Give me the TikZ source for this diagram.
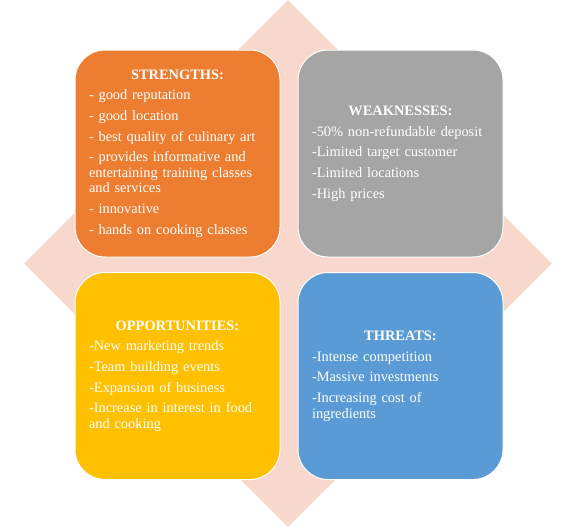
\documentclass[tikz,border=0pt]{standalone}
\usepackage{fontspec}
\setmainfont{Liberation Serif}
\usetikzlibrary{positioning,shapes.geometric}
\definecolor{swotorange}{RGB}{237,125,49}
\definecolor{swotgris}{RGB}{165,165,165}
\definecolor{swotjaune}{RGB}{255,192,0}
\definecolor{swotbleu}{RGB}{91,155,213}
\definecolor{fondrose}{RGB}{248,216,205}
\newcommand\swottitre[1]{{\centering\bfseries #1\par}}

\begin{document}
\begin{tikzpicture}[x=1pt,y=-1pt,
  carre/.style={draw=white,line width=1pt,rounded corners=30pt,minimum width=205pt,minimum height=207pt,inner sep=0pt},
  liste/.style={text=white,text width=177pt,align=left,inner sep=0pt,font=\fontsize{14.4}{15.5}\selectfont,
    execute at begin node={\setlength{\parskip}{5.2pt}}}]
\useasboundingbox (0,0) rectangle (576,528);
\node[diamond,fill=fondrose,inner sep=0pt,minimum width=528pt,minimum height=527pt] (fond) at (288,263.5) {};
\node[carre,fill=swotorange] (str) at (177.5,153.5) {};
\node[carre,fill=swotgris,right=17pt of str] (wk) {};
\node[carre,fill=swotjaune,below=14.5pt of str] (opp) {};
\node[carre,fill=swotbleu,right=17pt of opp] (thr) {};
\node[liste] (strtxt) at (str) {\swottitre{STRENGTHS:}
- good reputation\par
- good location\par
- best quality of culinary art\par
- provides informative and\\entertaining training classes\\and services\par
- innovative\par
- hands on cooking classes};
\node[liste] (wktxt) at (wk) {\swottitre{WEAKNESSES:}
-50\% non-refundable deposit\par
-Limited target customer\par
-Limited locations\par
-High prices};
\node[liste] (opptxt) at (opp) {\swottitre{OPPORTUNITIES:}
-New marketing trends\par
-Team building events\par
-Expansion of business\par
-Increase in interest in food\\and cooking};
\node[liste] (thrtxt) at (thr) {\swottitre{THREATS:}
-Intense competition\par
-Massive investments\par
-Increasing cost of\\ingredients};
\end{tikzpicture}
\end{document}
